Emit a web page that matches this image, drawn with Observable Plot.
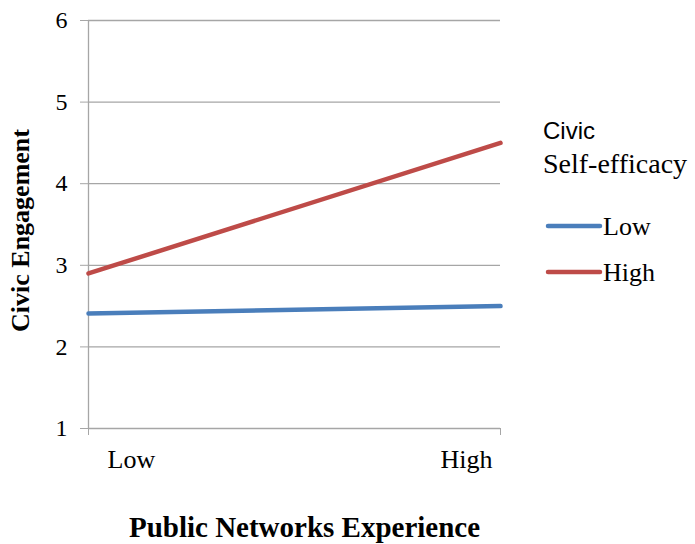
<!DOCTYPE html>
<html>
<head>
<meta charset="utf-8">
<script src="https://cdn.jsdelivr.net/npm/d3@7"></script>
<script src="https://cdn.jsdelivr.net/npm/@observablehq/plot@0.6"></script>
<style>
  body { margin: 0; background: #fff; }
  #wrap { position: relative; width: 695px; height: 544px; }
  #legend { position: absolute; left: 0; top: 0; pointer-events: none; }
</style>
</head>
<body>
<div id="wrap"></div>
<script>
// Public networks experience (Low / High) on the x axis
const xLevels = ["Low", "High"];
const xPos = [0, 1];

// Civic self-efficacy groups and their predicted civic engagement
const series = ["Low", "High"];
const lowValues = [2.41, 2.5];
const highValues = [2.9, 4.5];
const seriesColors = ["#4a7ebb", "#be4b48"];

const yTicks = [1, 2, 3, 4, 5, 6];

const data = [
  ...xPos.map((x, i) => ({series: "Low", x, y: lowValues[i]})),
  ...xPos.map((x, i) => ({series: "High", x, y: highValues[i]}))
];

const serif = "'Liberation Serif', 'Times New Roman', serif";
const grid = "#a6a6a6";

const chart = Plot.plot({
  width: 695,
  height: 544,
  marginLeft: 88,
  marginRight: 195,
  marginTop: 20,
  marginBottom: 116,
  style: {fontFamily: serif, fontSize: "24px", color: "#000", background: "#fff"},
  x: {domain: [0, 1]},
  y: {domain: [1, 6]},
  color: {domain: series, range: seriesColors},
  marks: [
    Plot.ruleY(yTicks, {stroke: grid, strokeWidth: 1.3}),
    Plot.ruleX([0], {stroke: grid, strokeWidth: 1.3}),
    Plot.axisY({ticks: yTicks, tickFormat: d3.format("d"), tickSize: 8, tickPadding: 13, stroke: grid, fill: "#000", label: null, fontSize: 24, fontFamily: serif}),
    Plot.axisX({ticks: xPos, tickSize: 7, tickFormat: () => "", stroke: grid, label: null}),
    Plot.text([xLevels[0]], {x: () => xPos[0], frameAnchor: "bottom", textAnchor: "start", lineAnchor: "middle", dx: 19, dy: 31, fontSize: 26, fontFamily: serif}),
    Plot.text([xLevels[1]], {x: () => xPos[1], frameAnchor: "bottom", textAnchor: "end", lineAnchor: "middle", dx: -8, dy: 31, fontSize: 26, fontFamily: serif}),
    Plot.text(["Public Networks Experience"], {frameAnchor: "bottom", textAnchor: "middle", lineAnchor: "middle", dx: 10, dy: 99, fontSize: 29, fontWeight: "bold", fontFamily: serif}),
    Plot.text(["Civic Engagement"], {frameAnchor: "left", textAnchor: "middle", rotate: -90, lineAnchor: "middle", dx: -68, dy: 6, fontSize: 26, fontWeight: "bold", fontFamily: serif}),
    Plot.line(data, {x: "x", y: "y", z: "series", stroke: "series", strokeWidth: 4.5})
  ]
});

const wrap = document.getElementById("wrap");
wrap.appendChild(chart);

// Legend: group title plus one swatch per self-efficacy level
const legend = d3.select(wrap).append("svg")
  .attr("id", "legend")
  .attr("width", 695)
  .attr("height", 544);

legend.append("text")
  .attr("x", 543).attr("y", 139)
  .attr("font-family", "'Liberation Sans', Arial, sans-serif")
  .attr("font-size", 24)
  .text("Civic");
legend.append("text")
  .attr("x", 543).attr("y", 173)
  .attr("font-family", serif)
  .attr("font-size", 28)
  .text("Self-efficacy");

const item = legend.selectAll("g.item")
  .data(series)
  .join("g")
  .attr("class", "item")
  .attr("transform", (d, i) => `translate(0, ${226 + i * 46})`);
item.append("line")
  .attr("x1", 548).attr("x2", 600)
  .attr("stroke", (d, i) => seriesColors[i])
  .attr("stroke-width", 4.5)
  .attr("stroke-linecap", "round");
item.append("text")
  .attr("x", 603).attr("y", 9)
  .attr("font-family", serif)
  .attr("font-size", 26)
  .text(d => d);
</script>
</body>
</html>
